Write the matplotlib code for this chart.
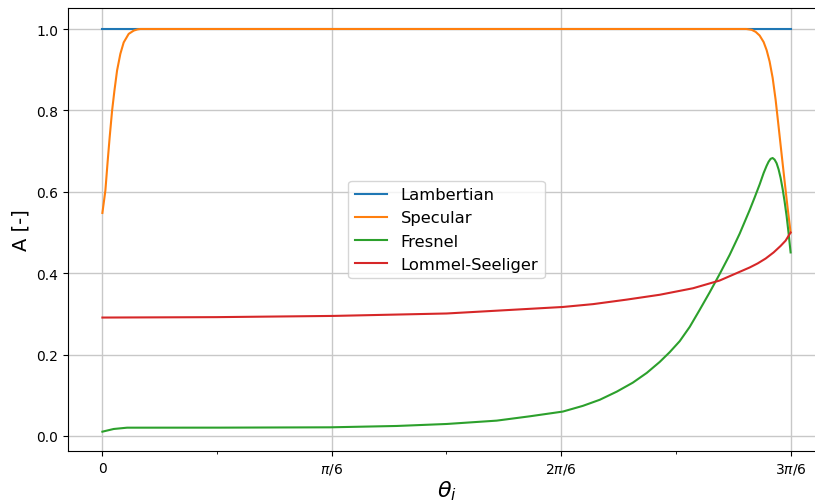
import numpy as np
import matplotlib
matplotlib.use("Agg")
import matplotlib.pyplot as plt

# angles in rad
lamb_x = [0.0, np.pi/2]
lamb_y = [1.0, 1.0]

spec_x = [0.0, 0.0068, 0.0121, 0.0166, 0.0221, 0.0274, 0.0335, 0.0410, 0.0486, 0.0600,
          0.0714, 0.0800, 0.0866, 1.4698, 1.4819, 1.4910, 1.5001, 1.5092, 1.5161, 1.5229,
          1.5298, 1.5366, 1.5434, 1.5503, 1.5571, 1.5640, 1.5708]
spec_y = [0.548, 0.603, 0.676, 0.734, 0.799, 0.848, 0.898, 0.939, 0.967, 0.988,
          0.996, 0.999, 1.0, 1.0, 0.998, 0.993, 0.984, 0.968, 0.948, 0.920,
          0.880, 0.826, 0.760, 0.692, 0.626, 0.560, 0.500]

fres_x = [0.0, 0.0258, 0.0563, 0.269, 0.5198, 0.6718, 0.7858, 0.8999, 0.9758, 1.0510,
          1.0966, 1.1353, 1.1741, 1.2106, 1.2425, 1.2721, 1.2949, 1.3177, 1.3405, 1.3633,
          1.3861, 1.4089, 1.4317, 1.4545, 1.4659, 1.4773, 1.4887, 1.5001, 1.5092, 1.5161,
          1.5206, 1.5252, 1.5298, 1.5343, 1.5389, 1.5434, 1.5480, 1.5526, 1.5571, 1.5617,
          1.5662, 1.5708]
fres_y = [0.0106, 0.0172, 0.0204, 0.0205, 0.0213, 0.0246, 0.0295, 0.0377, 0.0484, 0.060,
          0.074, 0.089, 0.109, 0.131, 0.155, 0.182, 0.206, 0.233, 0.268, 0.310,
          0.353, 0.398, 0.445, 0.497, 0.526, 0.555, 0.586, 0.618, 0.646, 0.664,
          0.674, 0.681, 0.683, 0.679, 0.670, 0.655, 0.634, 0.607, 0.576, 0.540,
          0.498, 0.451]

loms_x = [0.0, 0.2599, 0.5266, 0.7858, 1.0511, 1.1201, 1.1962, 1.2721, 1.3481, 1.4089,
          1.4773, 1.4956, 1.5138, 1.5320, 1.5480, 1.5594, 1.5708]
loms_y = [0.291, 0.292, 0.295, 0.301, 0.317, 0.324, 0.335, 0.347, 0.363, 0.382,
          0.414, 0.424, 0.436, 0.451, 0.467, 0.480, 0.500]

tick_pos = [0, np.pi/6, 2*np.pi/6, 3*np.pi/6]
tick_lab = ['0', r'$\pi/6$', r'$2\pi/6$', r'$3\pi/6$']
minor_pos = [np.pi/12, 3*np.pi/12, 5*np.pi/12]

fig = plt.figure(figsize=(8.15, 5.02), dpi=100)
ax = fig.add_axes([68/815, 50/502, 757/815, 443/502])

ax.plot(lamb_x, lamb_y, label='Lambertian')
ax.plot(spec_x, spec_y, label='Specular')
ax.plot(fres_x, fres_y, label='Fresnel')
ax.plot(loms_x, loms_y, label='Lommel-Seeliger')

ax.set_xlim(-0.0785, np.pi/2 + 0.0785)
ax.set_ylim(-0.0369, 1.0516)
ax.set_xticks(tick_pos)
ax.set_xticklabels(tick_lab)
ax.set_xticks(minor_pos, minor=True)
ax.grid(True, color='#c8c8c8', linewidth=1.0)
ax.set_xlabel(r'$\theta_i$', fontsize=16, labelpad=2)
ax.set_ylabel('A [-]', fontsize=14)
ax.legend(loc='center', fontsize=11.75)

fig.savefig('out.png', dpi=100)
